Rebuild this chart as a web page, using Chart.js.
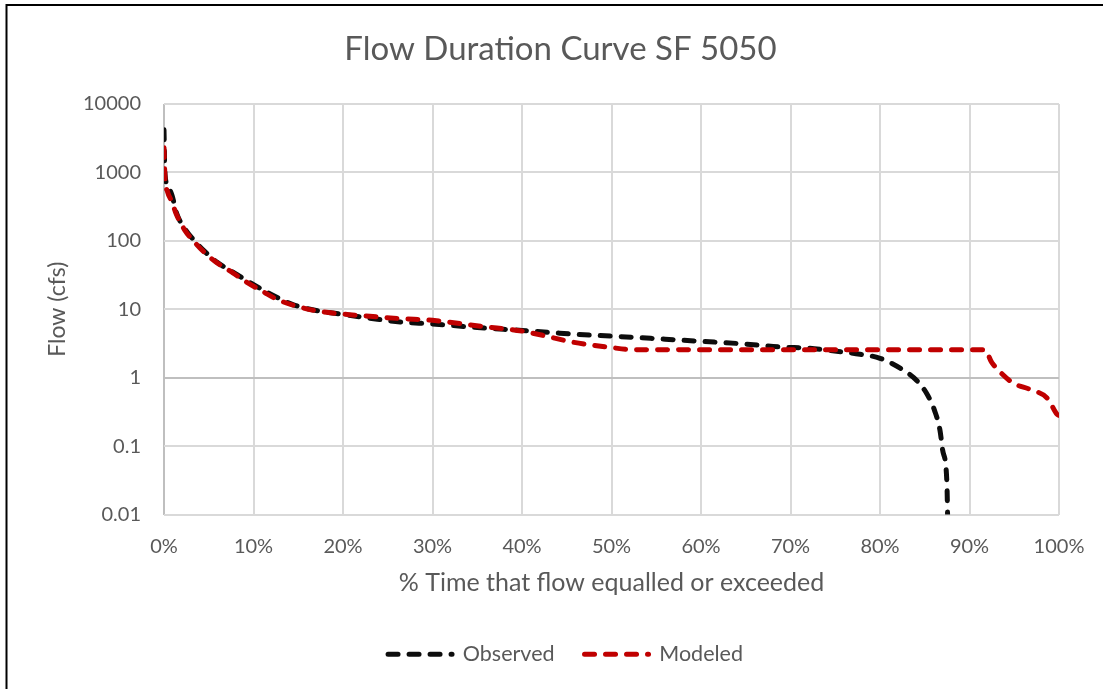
<!DOCTYPE html>
<html><head><meta charset="utf-8">
<script src="https://cdn.jsdelivr.net/npm/chart.js@4.4.1/dist/chart.umd.min.js"></script>
<style>html,body{margin:0;padding:0;background:#fff;overflow:hidden}#wrap{position:relative;width:1108px;height:689px}</style>
</head><body><div id="wrap"><canvas id="c" width="1108" height="689"></canvas></div>
<script>
const chartTitle = 'Flow Duration Curve SF 5050';
const xAxisTitle = '% Time that flow equalled or exceeded';
const yAxisTitle = 'Flow (cfs)';
const seriesNames = ['Observed', 'Modeled'];
const xTickValues = [0, 10, 20, 30, 40, 50, 60, 70, 80, 90, 100];
const yTickValues = [0.01, 0.1, 1, 10, 100, 1000, 10000];
const yTickLabels = ['0.01', '0.1', '1', '10', '100', '1000', '10000'];

const observedPct  = [0, 0.1, 0.4, 0.9, 1.4, 2.3, 3.5, 4.6, 5.9, 7.7, 9.2, 11.1, 12.6, 14.4, 17, 20, 23, 26.4, 30, 35, 40, 43, 46, 50, 56, 60, 65, 69, 72, 74.4, 77, 80, 82.6, 84.1, 85.2, 86.1, 86.7, 87.0, 87.4, 87.5, 87.55];
const observedFlow = [4200, 1000, 650, 460, 255, 152, 97, 69, 49, 35, 26.5, 19, 15, 11.7, 9.6, 8.4, 7.4, 6.5, 6.1, 5.4, 4.9, 4.6, 4.3, 4.05, 3.65, 3.4, 3.1, 2.8, 2.7, 2.5, 2.27, 1.92, 1.29, 0.91, 0.59, 0.33, 0.17, 0.087, 0.044, 0.022, 0.01];
const modeledPct   = [0, 0.1, 0.4, 0.9, 1.3, 2.3, 3.5, 4.6, 5.9, 7.7, 9.2, 11.1, 12.6, 14.4, 17, 20, 23, 26.4, 30, 35.6, 40, 42.3, 45.7, 50, 52.4, 60, 70, 80, 91.7, 92.5, 93.6, 94.9, 96.8, 98.7, 99.8, 100];
const modeledFlow  = [2300, 900, 520, 370, 260, 145, 93, 66, 48, 34, 25, 18, 14, 11.5, 9.5, 8.5, 7.9, 7.3, 6.9, 5.6, 4.8, 4.16, 3.3, 2.75, 2.57, 2.55, 2.55, 2.55, 2.55, 1.66, 1.15, 0.83, 0.67, 0.5, 0.29, 0.28];

const textColor = '#595959';
const fontFamily = 'Lato, "Open Sans", "Liberation Sans", sans-serif';

const framePlugin = {
  id: 'frame',
  beforeDraw(chart) {
    const c = chart.ctx;
    c.save();
    c.fillStyle = '#ffffff';
    c.fillRect(0, 0, chart.width, chart.height);
    c.strokeStyle = '#000000';
    c.lineWidth = 2;
    c.beginPath();
    c.moveTo(6.5, chart.height);
    c.lineTo(6.5, 5);
    c.lineTo(chart.width - 5, 5);
    c.stroke();
    c.restore();
  }
};

// Excel centres title and legend on the full chart object width (which extends past the right edge)
const blockShift = {
  id: 'blockShift',
  afterLayout(chart) {
    if (chart.legend) { chart.legend.left += 32; chart.legend.right += 32; }
    if (chart.titleBlock) { chart.titleBlock.left += 27; chart.titleBlock.right += 27; }
  }
};

const toPoints = (xs, ys) => xs.map((x, i) => ({ x: x, y: ys[i] }));

new Chart(document.getElementById('c'), {
  type: 'line',
  data: {
    datasets: [
      { label: seriesNames[0], data: toPoints(observedPct, observedFlow), borderColor: '#0d0d0d', backgroundColor: '#0d0d0d',
        borderWidth: 5, borderDash: [10, 11], borderCapStyle: 'round', pointRadius: 0, fill: false,
        cubicInterpolationMode: 'monotone', order: 1 },
      { label: seriesNames[1], data: toPoints(modeledPct, modeledFlow), borderColor: '#c00000', backgroundColor: '#c00000',
        borderWidth: 5, borderDash: [10, 11], borderCapStyle: 'round', pointRadius: 0, fill: false,
        cubicInterpolationMode: 'monotone', order: 0 }
    ]
  },
  options: {
    responsive: false,
    animation: false,
    devicePixelRatio: 1,
    layout: { padding: { left: 8, right: 49, top: 0, bottom: 14 } },
    plugins: {
      tooltip: { enabled: false },
      title: { display: true, text: chartTitle, color: textColor, font: { family: fontFamily, size: 33, weight: 'normal' },
               padding: { top: 30, bottom: 34.4 } },
      legend: {
        position: 'bottom',
        labels: {
          usePointStyle: true, pointStyle: 'line', pointStyleWidth: 64, padding: 30,
          color: textColor, font: { family: fontFamily, size: 21.5 },
          generateLabels: (chart) => chart.data.datasets.map((ds, i) => ({
            text: ds.label, fillStyle: ds.borderColor, strokeStyle: ds.borderColor, lineWidth: ds.borderWidth,
            lineDash: ds.borderDash, lineDashOffset: 0, lineCap: 'round', pointStyle: 'line',
            fontColor: textColor, hidden: !chart.isDatasetVisible(i), datasetIndex: i
          }))
        }
      }
    },
    scales: {
      x: {
        type: 'linear', min: 0, max: 100,
        afterBuildTicks: (s) => { s.ticks = xTickValues.map(v => ({ value: v })); },
        afterFit: (s) => { s.height = 99; },
        ticks: { color: textColor, font: { family: fontFamily, size: 20 }, padding: 20, callback: (v) => v + '%', maxRotation: 0 },
        grid: { drawTicks: false, lineWidth: 2, color: (ctx) => (ctx.tick && ctx.tick.value === 0 ? '#bfbfbf' : '#d9d9d9') },
        border: { display: false },
        title: { display: true, text: xAxisTitle, color: textColor, font: { family: fontFamily, size: 25 }, padding: { top: 4, bottom: 16 } }
      },
      y: {
        type: 'logarithmic', min: 0.01, max: 10000,
        afterBuildTicks: (s) => { s.ticks = yTickValues.map(v => ({ value: v })); },
        afterFit: (s) => { s.width = 156; },
        ticks: { color: textColor, font: { family: fontFamily, size: 20 }, padding: 23, callback: (v, i) => yTickLabels[i] },
        grid: { drawTicks: false, lineWidth: 2, color: (ctx) => (ctx.tick && ctx.tick.value === 1 ? '#bfbfbf' : '#d9d9d9') },
        border: { display: false },
        title: { display: true, text: yAxisTitle, color: textColor, font: { family: fontFamily, size: 23 }, padding: { top: 36 } }
      }
    }
  },
  plugins: [framePlugin, blockShift]
});
</script>
</body></html>
